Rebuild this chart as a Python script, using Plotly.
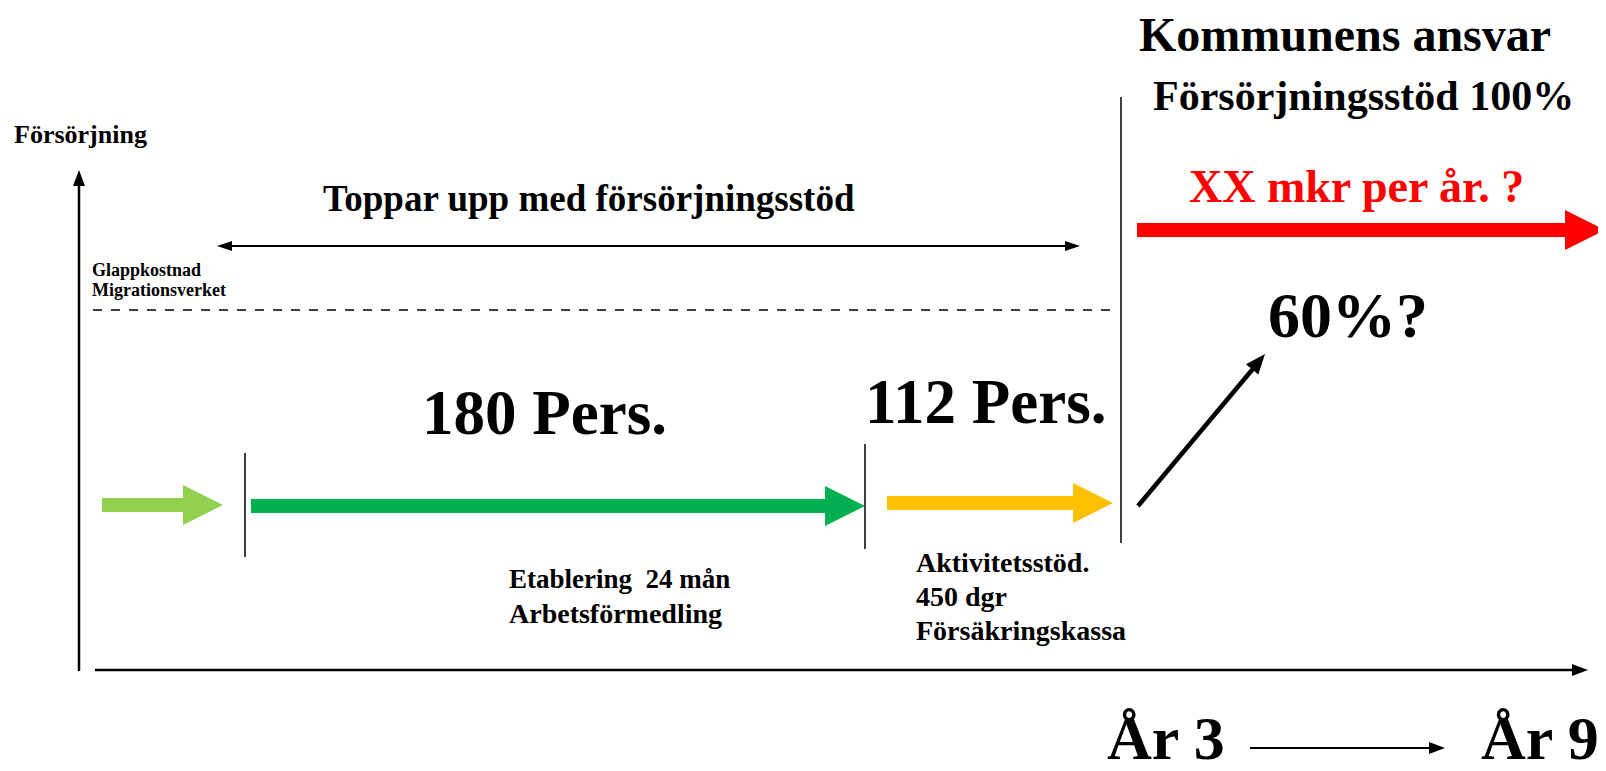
import math
import plotly.graph_objects as go

W, H = 1606, 771
OFF = 8  # page body margin offset, so axis units equal page pixels
FONT = "Liberation Serif"

# ---- data (timeline values, in axis units) ----
phase_names = ["Glapp", "Etablering", "Aktivitetsstöd"]
phase_start = [102, 251, 887]
phase_end = [223, 865, 1113]
phase_level = [505, 506, 503]
phase_colors = ["#92D050", "#00B050", "#FFC000"]

separators_x = [245, 865, 1121]
separators_top = [453, 444, 97]
separators_bottom = [557, 549, 543]

persons_labels = ["180 Pers.", "112 Pers."]
persons_x = [544, 985]
persons_y = [413, 402]

kommun_start, kommun_end, kommun_level = 1137, 1605, 230
topup_start, topup_end, topup_level = 217, 1080, 246
glapp_level = 310
rise_from = (1138, 506)
rise_to = (1265, 354)

fig = go.Figure()
fig.add_trace(go.Scatter(x=[0, W], y=[0, H], mode="markers", marker=dict(opacity=0),
                         hoverinfo="skip", showlegend=False))

shapes = []
annotations = []


def block_arrow(x0, x1, yc, color, half=7, head_len=40, head_half=20):
    xh = x1 - head_len
    path = (f"M {x0},{yc-half} L {xh},{yc-half} L {xh},{yc-head_half} L {x1},{yc} "
            f"L {xh},{yc+head_half} L {xh},{yc+half} L {x0},{yc+half} Z")
    shapes.append(dict(type="path", path=path, xref="x", yref="y", fillcolor=color,
                       line=dict(width=0), layer="above"))


def line(x0, y0, x1, y1, width=2, dash="solid", color="black"):
    shapes.append(dict(type="line", x0=x0, y0=y0, x1=x1, y1=y1, xref="x", yref="y",
                       line=dict(color=color, width=width, dash=dash)))


def head(xt, yt, dx, dy, length=14, half=6, color="black"):
    n = math.hypot(dx, dy)
    ux, uy = dx / n, dy / n
    px, py = -uy, ux
    bx, by = xt - ux * length, yt - uy * length
    path = f"M {xt},{yt} L {bx+px*half},{by+py*half} L {bx-px*half},{by-py*half} Z"
    shapes.append(dict(type="path", path=path, xref="x", yref="y", fillcolor=color,
                       line=dict(width=0)))


def text(x, y, s, size, xanchor="center", color="black"):
    annotations.append(dict(x=x, y=y, xref="x", yref="y", text=f"<b>{s}</b>",
                            showarrow=False, xanchor=xanchor, yanchor="middle",
                            font=dict(family=FONT, size=size, color=color), align="left"))


# axes
line(79, 671, 79, 180, width=2.5)
head(79, 170, 0, -1, length=16, half=6)
line(95, 670, 1575, 670, width=2.5)
head(1588, 670, 1, 0, length=16, half=6)

# glapp dashed line
line(93, glapp_level, 1119, glapp_level, width=1.5, dash="dash")

# top-up double arrow
line(topup_start + 10, topup_level, topup_end - 10, topup_level, width=2)
head(topup_start, topup_level, -1, 0, length=15, half=5)
head(topup_end, topup_level, 1, 0, length=15, half=5)

# separators
for sx, st, sb in zip(separators_x, separators_top, separators_bottom):
    line(sx, st, sx, sb, width=1.5)

# phase arrows
for x0, x1, yc, c in zip(phase_start, phase_end, phase_level, phase_colors):
    block_arrow(x0, x1, yc, c)

# kommun red arrow
block_arrow(kommun_start, kommun_end, kommun_level, "#FF0000", half=7, head_len=40, head_half=20)

# rising arrow
line(rise_from[0], rise_from[1], rise_to[0] - 8, rise_to[1] + 10, width=4.5)
head(rise_to[0], rise_to[1], rise_to[0] - rise_from[0], rise_to[1] - rise_from[1], length=20, half=8)

# År 3 -> År 9 arrow
line(1250, 748, 1430, 748, width=2)
head(1445, 748, 1, 0, length=16, half=6)

# texts
text(12, 134, "Försörjning", 26, xanchor="left")
text(90, 270, "Glappkostnad", 18, xanchor="left")
text(90, 290, "Migrationsverket", 18, xanchor="left")
text(589, 198, "Toppar upp med försörjningsstöd", 37)
for lbl, px, py in zip(persons_labels, persons_x, persons_y):
    text(px, py, lbl, 63)
text(507, 579, "Etablering&nbsp;&nbsp;24 mån", 27, xanchor="left")
text(507, 613, "Arbetsförmedling", 28, xanchor="left")
text(914, 562, "Aktivitetsstöd.", 28, xanchor="left")
text(914, 596, "450 dgr", 28, xanchor="left")
text(914, 630, "Försäkringskassa", 28, xanchor="left")
text(1345, 34, "Kommunens ansvar", 48)
text(1363, 96, "Försörjningsstöd 100%", 42)
text(1356, 186, "XX mkr per år. ?", 46, color="#FF0000")
text(1348, 315, "60%?", 64)
text(1166, 738, "År 3", 62)
text(1540, 738, "År 9", 62)

fig.update_layout(
    width=W, height=H, margin=dict(l=0, r=0, t=0, b=0),
    paper_bgcolor="white", plot_bgcolor="white",
    xaxis=dict(range=[OFF, W + OFF], visible=False, fixedrange=True),
    yaxis=dict(range=[H + OFF, OFF], visible=False, fixedrange=True),
    shapes=shapes, annotations=annotations, showlegend=False,
)
fig.write_html("out.html")
